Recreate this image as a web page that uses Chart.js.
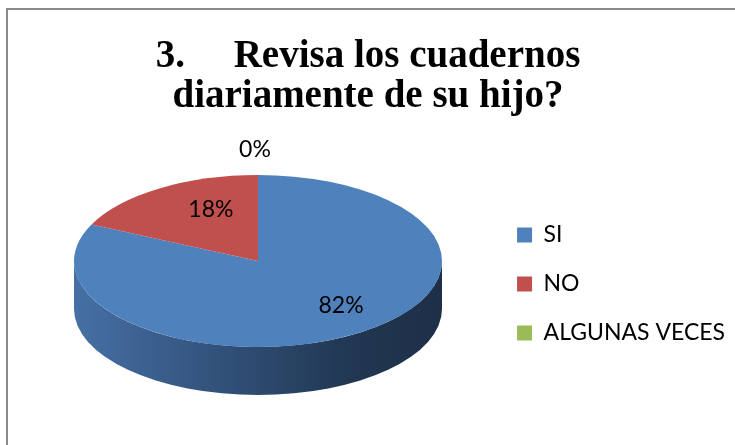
<!DOCTYPE html>
<html>
<head>
<meta charset="utf-8">
<script src="https://cdn.jsdelivr.net/npm/chart.js@4.4.1/dist/chart.umd.min.js"></script>
<style>
    body { margin: 0; background: #fff; overflow: hidden; }
    #wrap { position: relative; width: 735px; height: 445px; }
    #frame {
        position: absolute; left: 6px; top: 8px; width: 800px; height: 500px;
        border: 2px solid #8a8a8a; box-sizing: border-box;
    }
    canvas { position: absolute; left: 0; top: 0; }
</style>
</head>
<body>
<div id="wrap">
    <div id="frame"></div>
    <canvas id="pieChart" width="735" height="445"></canvas>
</div>
<script>
const categories = ['SI', 'NO', 'ALGUNAS VECES'];
const percents = [82, 18, 0];
const sliceColors = ['#4f81bd', '#c0504d', '#9bbb59'];
const titleLines = ['3.     Revisa los cuadernos', 'diariamente de su hijo?'];

// where the tilted pie sits on the page
const CX = 258, CY = 261, RX = 184, RY = 86, DEPTH = 48;

function ellipsePoint(a, f) {
    return {
        x: CX + RX * f * Math.cos(a),
        y: CY + RY * f * Math.sin(a)
    };
}

const tiltPlugin = {
    id: 'tilt',
    beforeDatasetsDraw(chart) {
        const ctx = chart.ctx;
        const arcs = chart.getDatasetMeta(0).data;
        if (!arcs.length) return;

        // side wall of the slices facing the viewer
        const grad = ctx.createLinearGradient(CX - RX, 0, CX + RX, 0);
        grad.addColorStop(0, '#4670a5');
        grad.addColorStop(0.45, '#2f4d74');
        grad.addColorStop(0.75, '#213752');
        grad.addColorStop(1, '#1e2f48');

        arcs.forEach((arc, i) => {
            let a0 = Math.max(arc.startAngle, 0);
            let a1 = Math.min(arc.endAngle, Math.PI);
            if (a1 <= a0) return;
            ctx.save();
            ctx.beginPath();
            ctx.ellipse(CX, CY, RX, RY, 0, a0, a1);
            ctx.ellipse(CX, CY + DEPTH, RX, RY, 0, a1, a0, true);
            ctx.closePath();
            ctx.fillStyle = i === 0 ? grad : sliceColors[i];
            ctx.fill();
            ctx.restore();
        });

        const a = arcs[0];
        const r = a.outerRadius;
        ctx.save();
        ctx.translate(CX, CY);
        ctx.scale(RX / r, RY / r);
        ctx.translate(-a.x, -a.y);
    },
    afterDatasetsDraw(chart) {
        const ctx = chart.ctx;
        const arcs = chart.getDatasetMeta(0).data;
        if (!arcs.length) return;
        ctx.restore();

        ctx.save();
        ctx.font = '23px Lato';
        ctx.fillStyle = '#000';
        ctx.textAlign = 'center';
        ctx.textBaseline = 'middle';
        arcs.forEach((arc, i) => {
            const mid = (arc.startAngle + arc.endAngle) / 2;
            const v = percents[i];
            if (v > 0) {
                const p = ellipsePoint(mid, 0.66);
                ctx.fillText(v + '%', p.x + 18, p.y - 3);
            } else {
                const p = ellipsePoint(mid, 1.3);
                ctx.fillText(v + '%', p.x - 3, p.y);
            }
        });
        ctx.restore();
    }
};

new Chart(document.getElementById('pieChart'), {
    type: 'pie',
    data: {
        labels: categories,
        datasets: [{
            data: percents,
            backgroundColor: sliceColors,
            borderWidth: 0
        }]
    },
    options: {
        responsive: false,
        animation: false,
        events: [],
        layout: { padding: { top: 18, bottom: 10, left: 1, right: 0 } },
        plugins: {
            title: {
                display: true,
                text: titleLines,
                color: '#000',
                font: { family: 'Liberation Serif', size: 39, weight: 'bold', lineHeight: '40px' },
                padding: { top: 19, bottom: 16 }
            },
            legend: {
                position: 'right',
                fullSize: false,
                labels: {
                    color: '#000',
                    font: { family: 'Lato', size: 23 },
                    boxWidth: 15,
                    boxHeight: 15,
                    padding: 26
                }
            },
            tooltip: { enabled: false }
        }
    },
    plugins: [tiltPlugin]
});
</script>
</body>
</html>
